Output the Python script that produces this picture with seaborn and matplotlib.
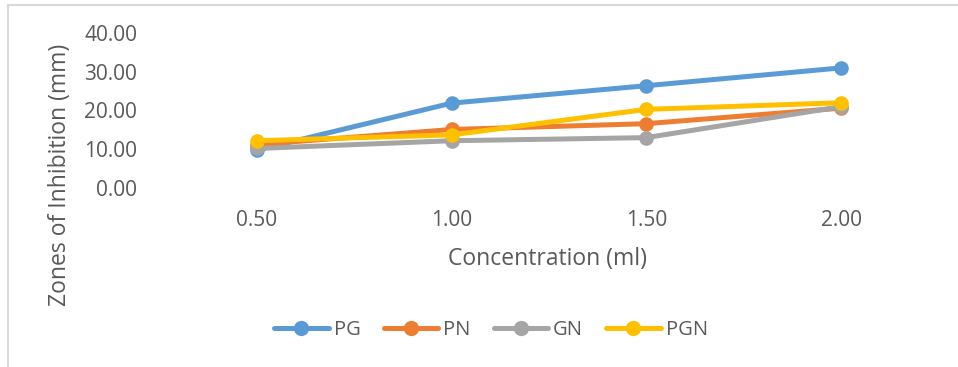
import matplotlib
matplotlib.use("Agg")
import matplotlib.pyplot as plt
from matplotlib.lines import Line2D
import seaborn as sns
import pandas as pd

concentration = [0.5, 1.0, 1.5, 2.0]
tick_labels = ["0.50", "1.00", "1.50", "2.00"]
series_names = ["PG", "PN", "GN", "PGN"]
pg = [9.8, 21.9, 26.4, 31.0]
pn = [11.2, 15.1, 16.6, 20.6]
gn = [10.2, 12.2, 13.0, 21.0]
pgn = [12.2, 13.7, 20.3, 22.0]
palette = ["#5B9BD5", "#ED7D31", "#A5A5A5", "#FFC000"]

rows = []
for name, vals in zip(series_names, [pg, pn, gn, pgn]):
    for c, v in zip(concentration, vals):
        rows.append({"Concentration": c, "Zone": v, "Series": name})
df = pd.DataFrame(rows)

sns.set_theme(style="white")
plt.rcParams["font.family"] = ["Open Sans", "DejaVu Sans"]
text_color = "#595959"

W, H = 958, 367
fig = plt.figure(figsize=(W / 100, H / 100), dpi=100)
ax = fig.add_axes([159.5 / W, 1 - 188 / H, (938.5 - 159.5) / W, 155 / H])

sns.lineplot(data=df, x="Concentration", y="Zone", hue="Series",
             hue_order=series_names, palette=palette, marker="o",
             markersize=10.5, markeredgewidth=0, linewidth=3.6,
             ax=ax, legend=False)

ax.set_xlim(0.25, 2.25)
ax.set_ylim(0, 40)
ax.set_xticks(concentration)
ax.set_xticklabels(tick_labels)
ax.set_yticks([0, 10, 20, 30, 40])
ax.set_yticklabels([f"{v:.2f}" for v in [0, 10, 20, 30, 40]])
ax.tick_params(axis="both", length=0, labelsize=15, colors=text_color)
ax.tick_params(axis="x", pad=16)
ax.tick_params(axis="y", pad=16)
for s in ax.spines.values():
    s.set_visible(False)
ax.grid(False)
ax.set_xlabel("")
ax.set_ylabel("")

fig.text(548 / W, 1 - 259 / H, "Concentration (ml)", ha="center", va="center",
         fontsize=16.5, color=text_color)
fig.text(60 / W, 1 - 175 / H, "Zones of Inhibition (mm)", rotation=90,
         ha="center", va="center", fontsize=16.5, color=text_color)

handles = [Line2D([0], [0], color=c, linewidth=3.6, marker="o", markersize=11,
                  markeredgewidth=0) for c in palette]
fig.legend(handles, series_names, loc="center", bbox_to_anchor=(491 / W, 1 - 330 / H),
           ncol=4, frameon=False, fontsize=14.5, labelcolor=text_color,
           handlelength=2.7, handletextpad=0.25, columnspacing=1.15,
           borderpad=0, borderaxespad=0)

# chart area border (top and left edges)
border = "#D9D9D9"
fig.add_artist(Line2D([8 / W, 8 / W], [0, 1 - 4.5 / H], color=border, linewidth=1.5,
                      transform=fig.transFigure))
fig.add_artist(Line2D([8 / W, 1], [1 - 4.5 / H, 1 - 4.5 / H], color=border, linewidth=1.5,
                      transform=fig.transFigure))

fig.savefig("out.png", dpi=100, facecolor="white")
